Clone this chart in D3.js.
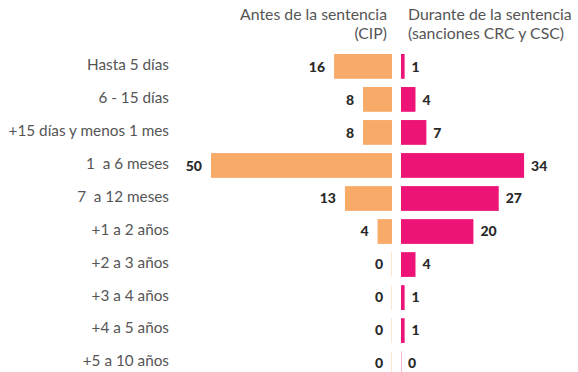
<!DOCTYPE html>
<html>
<head>
<meta charset="utf-8">
<script src="https://cdn.jsdelivr.net/npm/d3@7"></script>
<style>
  html, body { margin: 0; padding: 0; background: #fff; }
  svg { display: block; }
  .cat { font-family: Lato, "Open Sans", sans-serif; font-weight: 400; font-size: 15.3px; fill: #555; white-space: pre; }
  .head { font-family: Lato, "Open Sans", sans-serif; font-weight: 400; font-size: 15.8px; fill: #555; }
  .val { font-family: Lato, sans-serif; font-weight: 900; font-size: 14px; fill: #2a2a2a; }
</style>
</head>
<body>
<svg id="chart" width="578" height="372"></svg>
<script>
// Duration categories
const categories = [
  "Hasta 5 días",
  "6 - 15 días",
  "+15 días y menos 1 mes",
  "1  a 6 meses",
  "7  a 12 meses",
  "+1 a 2 años",
  "+2 a 3 años",
  "+3 a 4 años",
  "+4 a 5 años",
  "+5 a 10 años"
];
// Before sentencing (CIP)
const antes = [16, 8, 8, 50, 13, 4, 0, 0, 0, 0];
// During sentencing (CRC and CSC sanctions)
const durante = [1, 4, 7, 34, 27, 20, 4, 1, 1, 0];

const headLeft = ["Antes de la sentencia", "(CIP)"];
const headRight = ["Durante de la sentencia", "(sanciones CRC y CSC)"];

const colorAntes = "#F8AB68";
const colorDurante = "#EE1477";

const svg = d3.select("#chart");

const leftZero = 392, rightZero = 401;
const pxPerUnit = 3.62;

const xLeft = d3.scaleLinear().domain([0, 50]).range([leftZero, leftZero - 50 * pxPerUnit]);
const xRight = d3.scaleLinear().domain([0, 50]).range([rightZero, rightZero + 50 * pxPerUnit]);

// Bars and text rows
const yBar = d3.scaleBand().domain(categories).range([54, 54 + 32.2 * 10]).paddingInner(0.25).paddingOuter(0);
const yText = d3.scalePoint().domain(categories).range([65, 361]);

// Headers
const hl = svg.append("text").attr("class", "head").attr("text-anchor", "end").attr("x", 387);
headLeft.forEach((t, i) => hl.append("tspan").attr("x", 387).attr("y", 20 + i * 19).text(t));
const hr = svg.append("text").attr("class", "head").attr("text-anchor", "start").attr("x", 408);
headRight.forEach((t, i) => hr.append("tspan").attr("x", 408).attr("y", 20 + i * 19).text(t));

// Category labels
svg.append("g").selectAll("text").data(categories).join("text")
  .attr("class", "cat")
  .attr("text-anchor", "end")
  .attr("x", 169)
  .attr("y", d => yText(d))
  .attr("dy", "0.35em")
  .text(d => d);

// Left (before) bars
svg.append("g").selectAll("rect").data(antes).join("rect")
  .attr("x", d => d === 0 ? xLeft(0) - 1 : xLeft(d))
  .attr("y", (d, i) => yBar(categories[i]))
  .attr("width", d => d === 0 ? 1 : xLeft(0) - xLeft(d))
  .attr("height", yBar.bandwidth())
  .attr("fill", colorAntes)
  .attr("fill-opacity", d => d === 0 ? 0.3 : 1);

// Right (during) bars
svg.append("g").selectAll("rect").data(durante).join("rect")
  .attr("x", xRight(0))
  .attr("y", (d, i) => yBar(categories[i]))
  .attr("width", d => d === 0 ? 1 : xRight(d) - xRight(0))
  .attr("height", yBar.bandwidth())
  .attr("fill", colorDurante)
  .attr("fill-opacity", d => d === 0 ? 0.3 : 1);

// Value labels
svg.append("g").selectAll("text").data(antes).join("text")
  .attr("class", "val")
  .attr("text-anchor", "end")
  .attr("x", d => xLeft(d) - 9)
  .attr("y", (d, i) => yText(categories[i]) + 2)
  .attr("dy", "0.35em")
  .text(d => d);

svg.append("g").selectAll("text").data(durante).join("text")
  .attr("class", "val")
  .attr("text-anchor", "start")
  .attr("x", d => xRight(d) + 7)
  .attr("y", (d, i) => yText(categories[i]) + 2)
  .attr("dy", "0.35em")
  .text(d => d);
</script>
</body>
</html>
